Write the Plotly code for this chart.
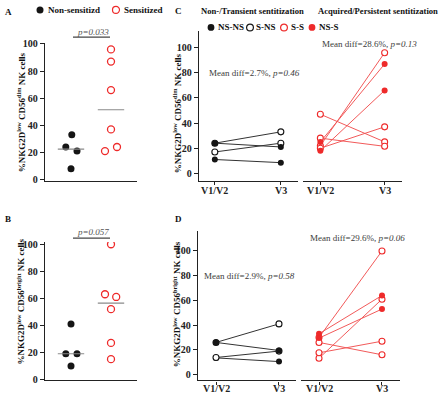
import plotly.graph_objects as go
import statistics

W, H = 440, 400
def px(x): return x / W
def py(y): return 1 - y / H

# ---------------- data ----------------
groups_AB = ["Non-sensitizd", "Sensitized"]
A_nonsens = [24, 33, 21, 8]
A_sens = [96, 87, 66, 37, 21, 24]
B_nonsens = [19, 19, 41, 10]
B_sens = [100, 63, 61, 52, 27, 15]

timepoints = ["V1/V2", "V3"]
C_nsns_v12 = [24, 11];          C_nsns_v3 = [21, 8.5]
C_sns_v12 = [24, 17];           C_sns_v3 = [33, 24]
C_ss_v12 = [47, 28, 22, 20];    C_ss_v3 = [25, 21.5, 96, 37]
C_nss_v12 = [25, 18];           C_nss_v3 = [87, 66]

D_nsns_v12 = [26, 13.5];        D_nsns_v3 = [19.5, 10.5]
D_sns_v12 = [26, 13.8];         D_sns_v3 = [41, 19]
D_ss_v12 = [30, 13.2, 17.6, 26]; D_ss_v3 = [100, 61, 27, 16]
D_nss_v12 = [33, 29.5];         D_nss_v3 = [64, 53]

yticks = [0, 20, 40, 60, 80, 100]

# jitter (style) for dot plots
A_nonsens_jit = [-0.13, 0.02, 0.15, 0.0]
A_sens_jit = [0, 0, 0, 0, -0.15, 0.15]
B_nonsens_jit = [-0.13, 0.15, 0.0, 0.0]
B_sens_jit = [0, -0.15, 0.13, 0, 0, 0]

FONT = "Liberation Serif"
BLACK = "#151515"
LINEK = "#333333"
RED = "#ee2a2a"
REDL = "#f25a5a"
GRAY = "#555555"

fig = go.Figure()

# ---------------- A / B dot plots ----------------
def dots(vals, jit, center, xa, ya, filled):
    fig.add_trace(go.Scatter(
        x=[center + j for j in jit], y=vals, xaxis=xa, yaxis=ya, mode="markers",
        marker=dict(size=7, symbol="circle",
                    color=BLACK if filled else "white",
                    line=dict(color=BLACK if filled else RED, width=0 if filled else 1.3)),
        hoverinfo="skip"))
    m = statistics.median(vals)
    fig.add_trace(go.Scatter(x=[center - 0.33, center + 0.33], y=[m, m], xaxis=xa, yaxis=ya,
                             mode="lines", line=dict(color="#8a8a8a", width=1.2), hoverinfo="skip"))

dots(A_nonsens, A_nonsens_jit, 1, "x", "y", True)
dots(A_sens, A_sens_jit, 2, "x", "y", False)
dots(B_nonsens, B_nonsens_jit, 1, "x2", "y2", True)
dots(B_sens, B_sens_jit, 2, "x2", "y2", False)

# ---------------- C / D paired plots ----------------
def subject(v12, v3, xa, ya, color, lcolor, filled):
    fig.add_trace(go.Scatter(
        x=[0, 1], y=[v12, v3], xaxis=xa, yaxis=ya, mode="lines+markers",
        line=dict(color=lcolor, width=1),
        marker=dict(size=6, color=color if filled else "white",
                    line=dict(color=color, width=0 if filled else 1.1)),
        hoverinfo="skip"))

# C left: S-NS first, then NS-NS
for a, b in zip(C_sns_v12, C_sns_v3):
    subject(a, b, "x3", "y3", BLACK, LINEK, False)
for a, b in zip(C_nsns_v12, C_nsns_v3):
    subject(a, b, "x3", "y3", BLACK, LINEK, True)
# C right
for a, b in zip(C_ss_v12, C_ss_v3):
    subject(a, b, "x4", "y4", RED, REDL, False)
for a, b in zip(C_nss_v12, C_nss_v3):
    subject(a, b, "x4", "y4", RED, REDL, True)
# D left (interleaved draw order)
subject(D_sns_v12[0], D_sns_v3[0], "x5", "y5", BLACK, LINEK, False)
subject(D_nsns_v12[1], D_nsns_v3[1], "x5", "y5", BLACK, LINEK, True)
subject(D_sns_v12[1], D_sns_v3[1], "x5", "y5", BLACK, LINEK, False)
subject(D_nsns_v12[0], D_nsns_v3[0], "x5", "y5", BLACK, LINEK, True)
# D right
for a, b in zip(D_ss_v12, D_ss_v3):
    subject(a, b, "x6", "y6", RED, REDL, False)
for a, b in zip(D_nss_v12, D_nss_v3):
    subject(a, b, "x6", "y6", RED, REDL, True)

# ---------------- axes ----------------
tickfont = dict(family=FONT, size=10, color="#222")

def yax(dom, rng, anchor, visible=True):
    return dict(domain=[py(dom[0]), py(dom[1])], range=rng, anchor=anchor, visible=visible,
                showline=True, linecolor="#222", linewidth=1.3, ticks="outside", ticklen=4,
                tickwidth=1.1, tickcolor="#222", tickvals=yticks,
                ticktext=[f"<b>{t}</b>" for t in yticks], tickfont=tickfont,
                showgrid=False, zeroline=False)

def xax_dot(dom, anchor):
    return dict(domain=[px(dom[0]), px(dom[1])], range=[0.35, 2.65], anchor=anchor,
                showline=True, linecolor="#222", linewidth=1.3, showticklabels=False,
                ticks="", showgrid=False, zeroline=False)

def xax_pair(dom, rng, anchor):
    return dict(domain=[px(dom[0]), px(dom[1])], range=rng, anchor=anchor,
                showline=True, linecolor="#222", linewidth=1.3, tickvals=[0, 1],
                showticklabels=False, ticks="outside", ticklen=3, tickcolor="#222",
                showgrid=False, zeroline=False)

fig.update_layout(
    width=W, height=H, margin=dict(l=0, r=0, t=0, b=0),
    paper_bgcolor="white", plot_bgcolor="white", showlegend=False,
    xaxis=xax_dot((45, 137), "y"),
    yaxis=yax((180, 39), [-0.7, 100.7], "x"),
    xaxis2=xax_dot((45, 137), "y2"),
    yaxis2=yax((385, 243), [-0.7, 101.7], "x2"),
    xaxis3=xax_pair((199, 298), [-0.24, 1.26], "y3"),
    yaxis3=yax((180, 27), [-5.7, 113], "x3"),
    xaxis4=xax_pair((303, 402), [-0.27, 1.27], "y4"),
    yaxis4=yax((180, 27), [-5.7, 113], "x4", visible=False),
    xaxis5=xax_pair((198, 296), [-0.286, 1.27], "y5"),
    yaxis5=yax((385, 232), [-4.7, 116], "x5"),
    xaxis6=xax_pair((301, 400), [-0.286, 1.286], "y6"),
    yaxis6=yax((385, 232), [-4.7, 116], "x6", visible=False),
)

# ---------------- annotations ----------------
ann = []
def text(x, y, s, size=9, bold=True, color="#111", xanchor="left", angle=0, italic=False):
    ann.append(dict(x=px(x), y=py(y), xref="paper", yref="paper", text=s, showarrow=False,
                    xanchor=xanchor, yanchor="middle", textangle=angle,
                    font=dict(family=FONT, size=size, color=color,
                              weight="bold" if bold else "normal",
                              style="italic" if italic else "normal")))

text(3, 7, "A"); text(3, 219, "B"); text(173, 6, "C"); text(173, 219, "D")
text(199, 6, "Non-/Transient sentitization", size=8.6)
text(316, 6, "Acquired/Persistent sentitization", size=8.6)

# legends (text)
text(46, 5, "Non-sensitizd"); text(122, 5, "Sensitized")
text(216, 23, "NS-NS"); text(254, 23, "S-NS"); text(289, 23, "S-S"); text(317, 23, "NS-S")

# y titles (rotated)
ytA = "%NKG2D<sup>low</sup> CD56<sup>dim</sup> NK cells"
ytB = "%NKG2D<sup>low</sup> CD56<sup>bright</sup> NK cells"
text(21, 110, ytA, xanchor="center", angle=-90)
text(21, 304, ytB, xanchor="center", angle=-90)
text(177, 111, ytA, xanchor="center", angle=-90)
text(177, 307, ytB, xanchor="center", angle=-90)

# x tick labels for paired panels
for xa, yy in (("x3", 190), ("x4", 190), ("x5", 393), ("x6", 393)):
    for i, t in enumerate(timepoints):
        ann.append(dict(x=i, y=py(yy), xref=xa, yref="paper", text=t, showarrow=False,
                        xanchor="center", yanchor="middle",
                        font=dict(family=FONT, size=10, color="#222", weight="bold")))

# p-values
text(93, 28, "p=0.033", bold=False, italic=True, color=GRAY, xanchor="center")
text(93, 233, "p=0.057", bold=False, italic=True, color=GRAY, xanchor="center")

# mean diffs
MD = "#3c3c3c"
text(254, 70, "Mean diff=2.7%, <i>p=0.46</i>", bold=False, color=MD, xanchor="center")
text(369, 40, "Mean diff=28.6%, <i>p=0.13</i>", bold=False, color=MD, xanchor="center")
text(249, 278, "Mean diff=2.9%, <i>p=0.58</i>", bold=False, color=MD, xanchor="center")
text(357, 239, "Mean diff=29.6%, <i>p=0.06</i>", bold=False, color=MD, xanchor="center")

fig.update_layout(annotations=ann)

# ---------------- shapes: legend symbols, p-value bars ----------------
shapes = []
def circ(x, y, filled, color, r=3.5):
    shapes.append(dict(type="circle", xref="paper", yref="paper", xsizemode="pixel",
                       ysizemode="pixel", xanchor=px(x), yanchor=py(y),
                       x0=-r, x1=r, y0=-r, y1=r,
                       fillcolor=color if filled else "white",
                       line=dict(color=color, width=0 if filled else 1.2)))

circ(40, 5, True, BLACK); circ(116, 5, False, RED)
circ(211, 23, True, BLACK, 3.4); circ(250, 23, False, BLACK, 3.4)
circ(284, 23, False, RED, 3.4); circ(312, 23, True, RED, 3.4)

for yy in (33, 239):
    shapes.append(dict(type="line", xref="paper", yref="paper", x0=px(73), x1=px(110),
                       y0=py(yy), y1=py(yy), line=dict(color="#444", width=1.2)))
fig.update_layout(shapes=shapes)

fig.write_html("out.html", config={"displayModeBar": False},
               post_script="document.body.style.margin='0';document.body.style.overflow='hidden';")
